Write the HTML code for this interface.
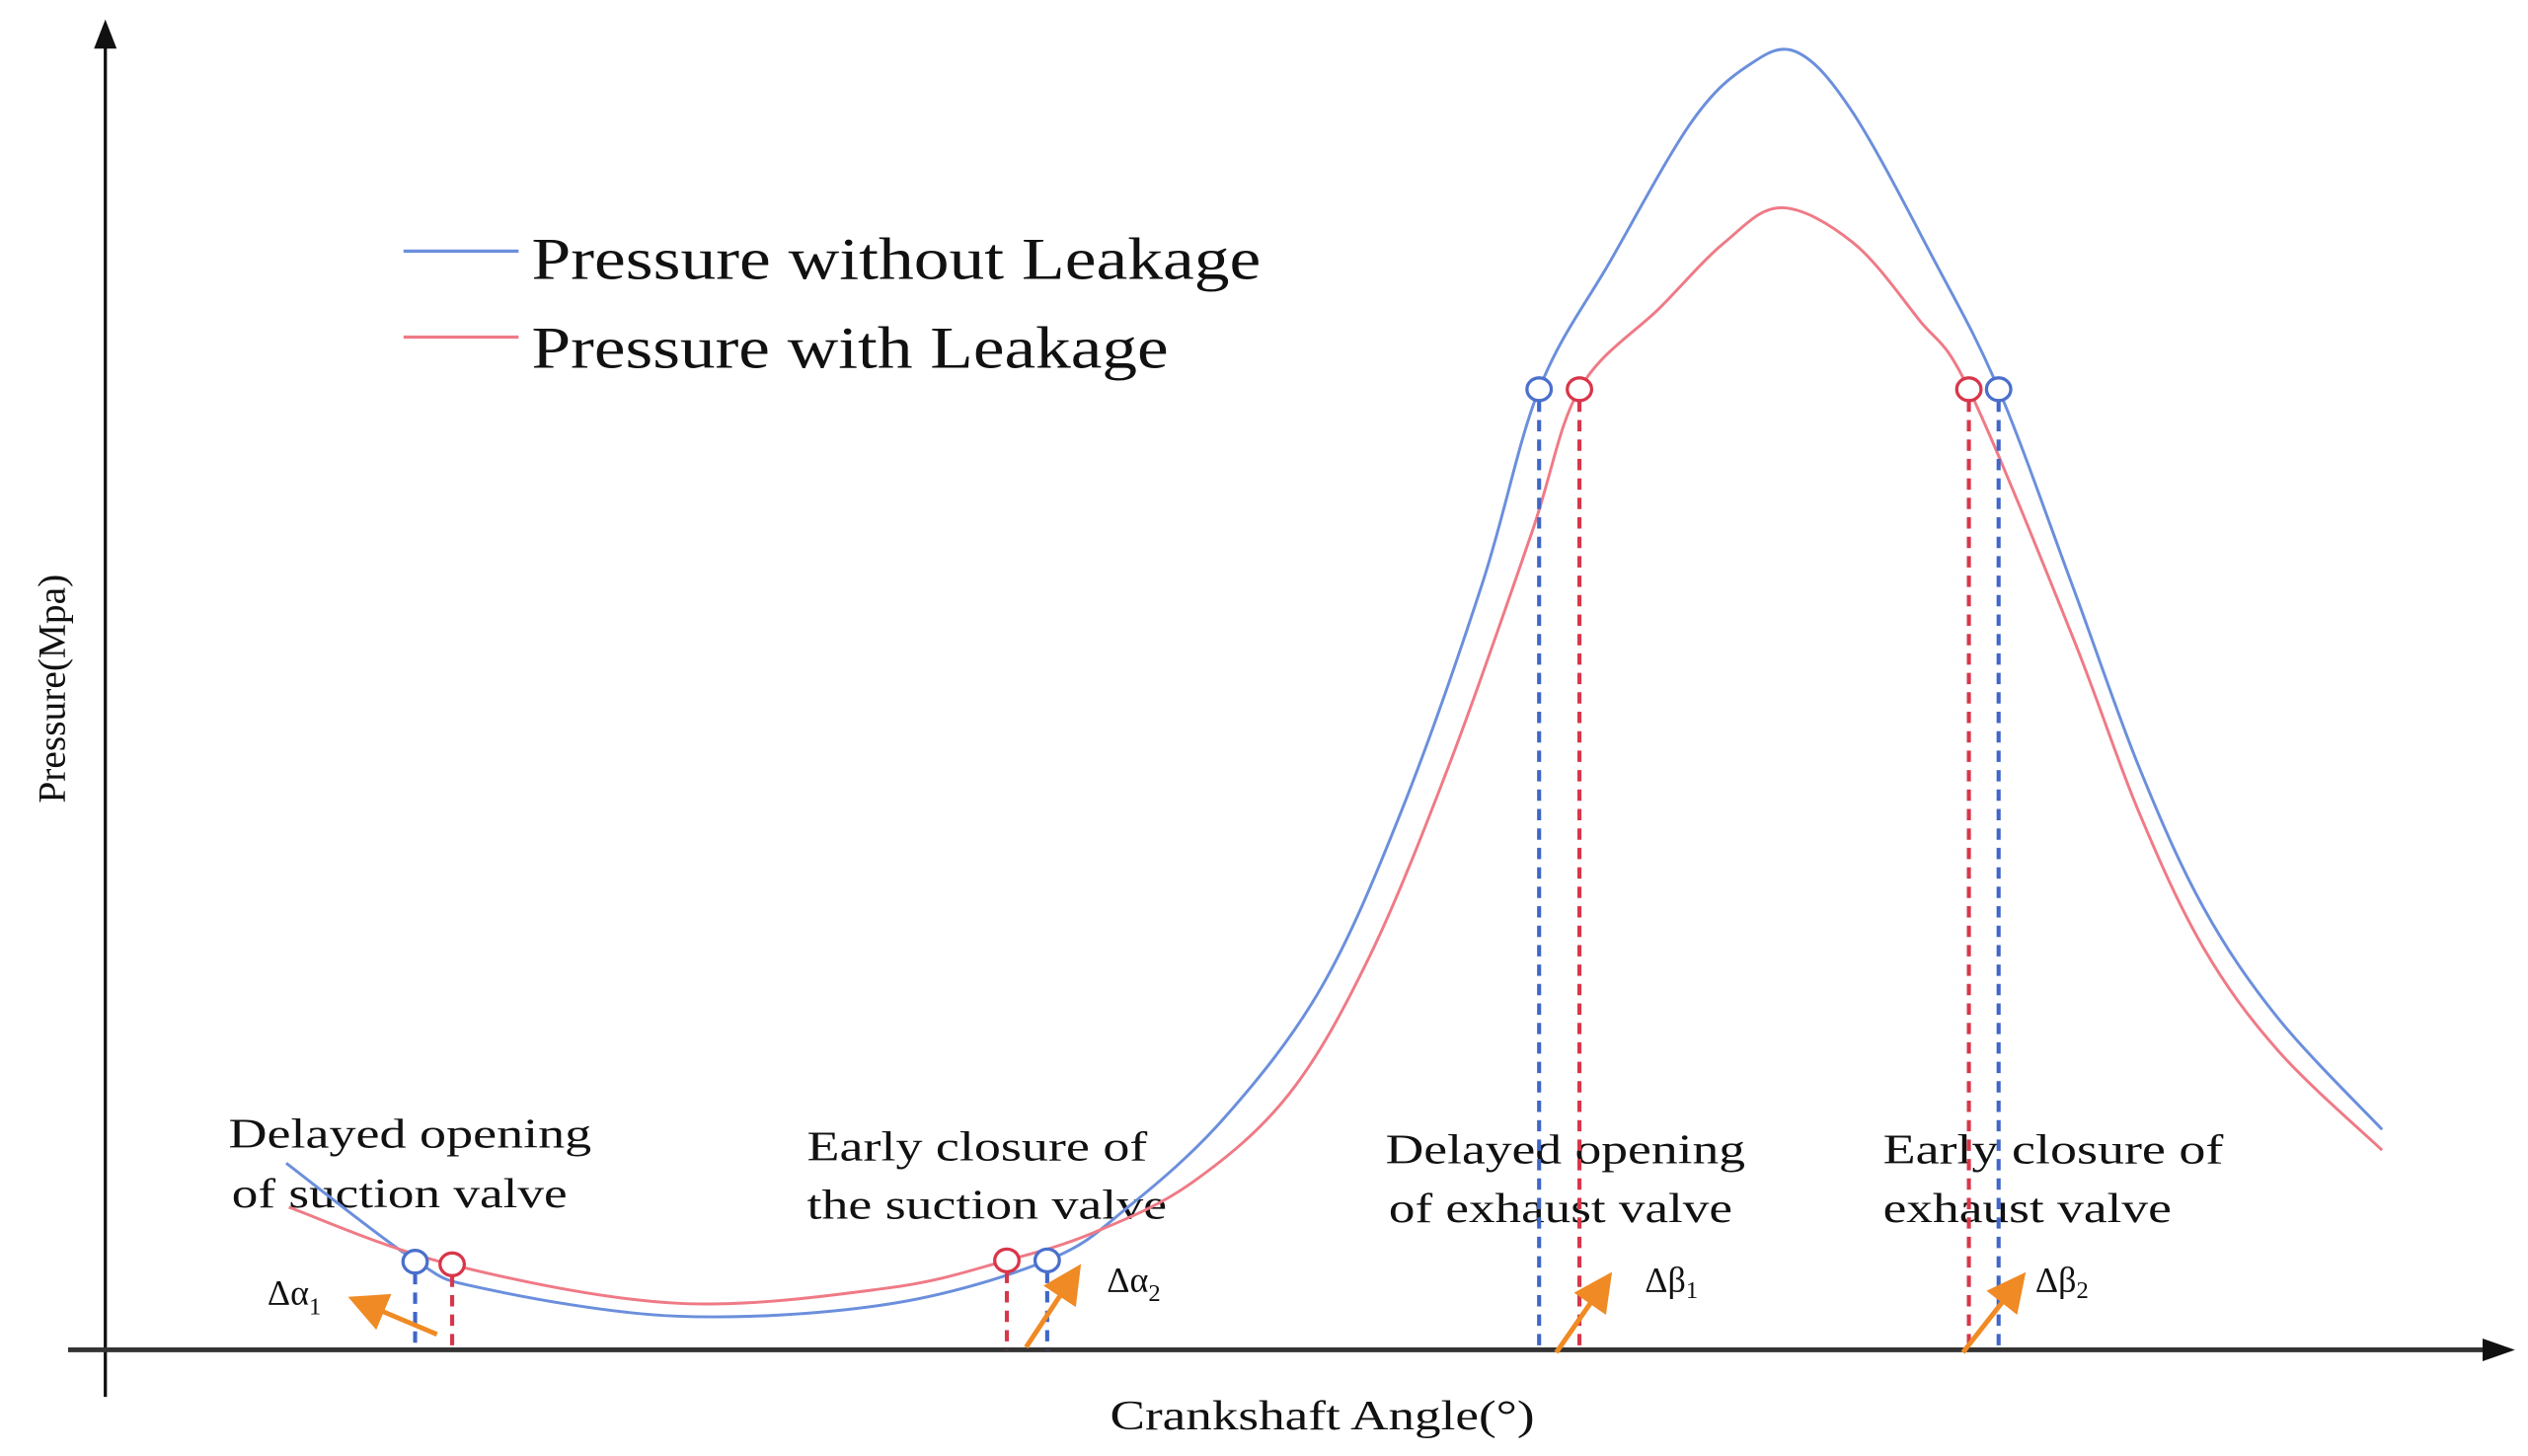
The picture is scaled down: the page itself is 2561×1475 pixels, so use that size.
<!DOCTYPE html>
<html><head><meta charset="utf-8"><style>
html,body{margin:0;padding:0;background:#fff;}
svg{display:block;}
text{font-family:"Liberation Serif",serif;fill:#111;}
</style></head><body>
<svg id="chart" width="2561" height="1475" viewBox="0 0 1560 898.5" preserveAspectRatio="none" xmlns="http://www.w3.org/2000/svg">
<defs>
<marker id="ah" markerWidth="8" markerHeight="8" refX="6" refY="4" orient="auto"><path d="M0,0 L8,4 L0,8 Z" fill="#f08a24"/></marker>
</defs>
<g id="axes">
<line x1="65" y1="862" x2="65" y2="22" stroke="#111" stroke-width="2"/>
<path d="M58,30 L65,12 L72,30 Z" fill="#111"/>
<line x1="42" y1="833" x2="1540" y2="833" stroke="#333" stroke-width="3"/>
<path d="M1532,826 L1552,833 L1532,840 Z" fill="#111"/>
<text x="685" y="882" font-size="26" textLength="262" lengthAdjust="spacingAndGlyphs">Crankshaft Angle(°)</text>
<text transform="translate(40,425) rotate(-90)" font-size="24" text-anchor="middle">Pressure(Mpa)</text>
</g>
<g id="legend">
<line x1="249" y1="155" x2="320" y2="155" stroke="#6b8fdc" stroke-width="2"/>
<text x="328" y="172" font-size="37" textLength="450" lengthAdjust="spacingAndGlyphs">Pressure without Leakage</text>
<line x1="249" y1="208" x2="320" y2="208" stroke="#ef7a86" stroke-width="2"/>
<text x="328" y="227" font-size="37" textLength="393" lengthAdjust="spacingAndGlyphs">Pressure with Leakage</text>
</g>
<g id="annotations" font-size="26">
<text><tspan x="141" y="708" textLength="224" lengthAdjust="spacingAndGlyphs">Delayed opening</tspan><tspan x="143" y="745" textLength="207" lengthAdjust="spacingAndGlyphs">of suction valve</tspan></text>
<text><tspan x="498" y="716" textLength="210" lengthAdjust="spacingAndGlyphs">Early closure of</tspan><tspan x="498" y="752" textLength="222" lengthAdjust="spacingAndGlyphs">the suction valve</tspan></text>
<text><tspan x="855" y="718" textLength="222" lengthAdjust="spacingAndGlyphs">Delayed opening</tspan><tspan x="857" y="754" textLength="212" lengthAdjust="spacingAndGlyphs">of exhaust valve</tspan></text>
<text><tspan x="1162" y="718" textLength="210" lengthAdjust="spacingAndGlyphs">Early closure of</tspan><tspan x="1162" y="754" textLength="178" lengthAdjust="spacingAndGlyphs">exhaust valve</tspan></text>
<text x="165" y="805" font-size="22">Δα<tspan font-size="15" dy="6">1</tspan></text>
<text x="683" y="797" font-size="22">Δα<tspan font-size="15" dy="6">2</tspan></text>
<text x="1015" y="797" font-size="22">Δβ<tspan font-size="15" dy="4">1</tspan></text>
<text x="1256" y="797" font-size="22">Δβ<tspan font-size="15" dy="4">2</tspan></text>
</g>
<g id="series"></g>
</svg>
<script>
const blueAngles=[27.6,47.1,57.3,86.6,118.3,142.7,154.9,169.5,184.1,196.3,208.5,217.1,228,240.2,248.8,256.1,264.6,276.8,286.6,297.8,307.8,317.6,329,344.6];
const bluePressure=[14.4,6.9,4.75,2.6,3.5,6.9,11,17.9,27.9,41.6,59.1,74.1,84.1,94.75,99.1,100.1,95.4,84.1,74.1,58.9,45,34.1,25.5,17];
const redAngles=[28,52.4,86.6,118.3,136.6,150,164.6,179.3,191.5,203.7,215.9,223.2,235.4,245.1,253.7,264.6,274.5,282.1,297.8,307.8,317.6,329,344.6];
const redPressure=[11,6.6,3.6,4.75,6.9,9.1,12.9,19.75,30.4,45.4,62.9,74.1,80.4,85.4,88.1,85.4,79.5,74.1,55,41.5,31,23,15.4];
const blueValveAngles=[47.1,142.7,217.1,286.6];
const blueValvePressure=[6.8,6.9,74.1,74.1];
const redValveAngles=[52.7,136.6,223.2,282.1];
const redValvePressure=[6.6,6.9,74.1,74.1];
const arrowFrom=[[50.4,1.2],[139.5,0.2],[219.7,-0.2],[281.2,-0.2]];
const arrowTo=[[38.3,3.8],[147,6],[227.3,5.4],[289.8,5.4]];

const xS=a=>64+a*4.08;
const yS=p=>833-p*8;
const NS="http://www.w3.org/2000/svg";
const g=document.getElementById('series');

function smooth(xs,ys){
  const P=xs.map((a,i)=>[xS(a),yS(ys[i])]);
  let d=`M${P[0][0]},${P[0][1]}`;
  for(let i=0;i<P.length-1;i++){
    const p0=P[Math.max(0,i-1)],p1=P[i],p2=P[i+1],p3=P[Math.min(P.length-1,i+2)];
    const c1=[p1[0]+(p2[0]-p0[0])/6,p1[1]+(p2[1]-p0[1])/6];
    const c2=[p2[0]-(p3[0]-p1[0])/6,p2[1]-(p3[1]-p1[1])/6];
    d+=` C${c1[0]},${c1[1]} ${c2[0]},${c2[1]} ${p2[0]},${p2[1]}`;
  }
  return d;
}
function line(name,xs,ys,color){
  const p=document.createElementNS(NS,'path');
  p.setAttribute('d',smooth(xs,ys));
  p.setAttribute('fill','none');p.setAttribute('stroke',color);p.setAttribute('stroke-width','1.8');
  
  
  g.appendChild(p);
}
line('pressure-without-leakage-line',blueAngles,bluePressure,'#6b8fdc');
line('pressure-with-leakage-line',redAngles,redPressure,'#ef7a86');

function valves(prefix,xs,ys,dash,color){
  xs.forEach((a,i)=>{
    const l=document.createElementNS(NS,'line');
    l.setAttribute('x1',xS(a));l.setAttribute('x2',xS(a));
    l.setAttribute('y1',yS(ys[i])+7);l.setAttribute('y2',833);
    l.setAttribute('stroke',dash);l.setAttribute('stroke-width','2.5');l.setAttribute('stroke-dasharray','7,5');
    
    
    g.appendChild(l);
    const c=document.createElementNS(NS,'ellipse');
    c.setAttribute('cx',xS(a));c.setAttribute('cy',yS(ys[i]));c.setAttribute('rx',7.5);c.setAttribute('ry',7);
    c.setAttribute('fill','#fff');c.setAttribute('stroke',color);c.setAttribute('stroke-width','2');
    
    
    g.appendChild(c);
  });
}
valves('blue',blueValveAngles,blueValvePressure,'#3f66c8','#4a6fcc');
valves('red',redValveAngles,redValvePressure,'#d8364a','#d8364a');

arrowFrom.forEach((f,i)=>{
  const l=document.createElementNS(NS,'line');
  l.setAttribute('x1',xS(f[0]));l.setAttribute('y1',yS(f[1]));
  l.setAttribute('x2',xS(arrowTo[i][0]));l.setAttribute('y2',yS(arrowTo[i][1]));
  l.setAttribute('stroke','#f08a24');l.setAttribute('stroke-width','3');
  l.setAttribute('marker-end','url(#ah)');
  
  
  g.appendChild(l);
});
</script>
</body></html>
